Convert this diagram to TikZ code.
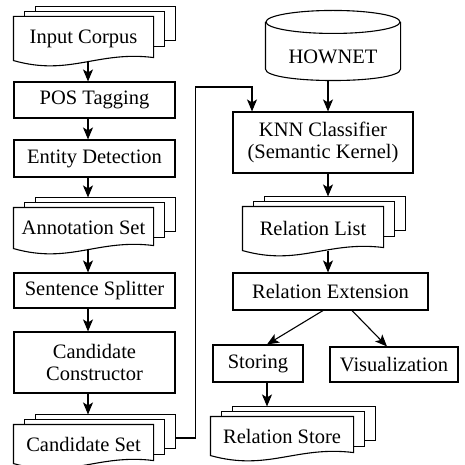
\documentclass[tikz,border=0pt]{standalone}
\usepackage{fontspec}
\setmainfont{Liberation Serif}
\usetikzlibrary{arrows.meta,calc,backgrounds}

% stack of three documents behind a doc node
\newcommand{\docstack}[1]{%
  \begin{scope}[on background layer]
  \draw[sheet] ($(#1.north west)+(22,-10)$) rectangle ($(#1.north east)+(22,24)$);
  \draw[sheet] ($(#1.north west)+(11,-5)$) rectangle ($(#1.north east)+(11,30)$);
  \draw[sheet] (#1.north west) -- (#1.north east) -- ($(#1.south east)+(0,-3)$)
    .. controls ($(#1.south east)!0.4!(#1.south west)+(0,-10)$) and ($(#1.south west)!0.4!(#1.south east)+(0,16)$) .. (#1.south west) -- cycle;
  \end{scope}
  \coordinate (#1top) at ($(#1.north)+(0,-10)$);
  \coordinate (#1back) at ($(#1.east)+(22,-6)$);
}

\begin{document}
\begin{tikzpicture}[x=1pt,y=-1pt,line width=1.1pt,
  every node/.style={font=\fontsize{20.5}{22}\selectfont},
  box/.style={draw,align=center,inner sep=0pt},
  doc/.style={align=center,inner sep=0pt},
  sheet/.style={draw,fill=white,line width=1.1pt},
  arr/.style={-{Stealth[length=12pt,width=10pt,inset=3pt]}}]
\useasboundingbox (0,0) rectangle (465,465);

% left column
\coordinate (lx) at (88,0);
\node[doc,minimum width=139pt,minimum height=43pt] (corpus) at (83.5,38.5) {Input Corpus};
\node[box,minimum width=161pt,minimum height=36pt] (pos) at (94.5,100) {POS Tagging};
\node[box,minimum width=161pt,minimum height=37pt] (ent) at (94.5,158.5) {Entity Detection};
\node[doc,minimum width=139pt,minimum height=40pt] (annot) at (83.5,228) {Annotation Set};
\node[box,minimum width=161pt,minimum height=35pt] (split) at (94.5,290.5) {Sentence Splitter};
\node[box,minimum width=161pt,minimum height=61pt] (cons) at (94.5,362.5) {Candidate\\Constructor};
\node[doc,minimum width=139pt,minimum height=38pt] (cand) at (83.5,444) {Candidate Set};
\docstack{corpus}
\docstack{annot}
\docstack{cand}

% right column
\coordinate (rx) at (328,0);
\node[minimum width=134pt,minimum height=46pt,inner sep=0pt] (hownet) at (333,57) {HOWNET};
\draw ($(hownet.north)+(0,-11.5)$) ellipse [x radius=67pt,y radius=11.5pt];
\draw ($(hownet.north west)+(0,-11.5)$) -- ($(hownet.south west)+(0,-11.5)$)
  .. controls +(0,15.3) and +(0,15.3) .. ($(hownet.south east)+(0,-11.5)$)
  -- ($(hownet.north east)+(0,-11.5)$);
\node[box,minimum width=180pt,minimum height=61pt] (knn) at (323,142.5) {KNN Classifier\\(Semantic Kernel)};
\node[doc,minimum width=140pt,minimum height=43pt] (rlist) at (313,228.5) {Relation List};
\node[box,minimum width=195pt,minimum height=37pt] (ext) at (330.5,291.5) {Relation Extension};
\node[box,minimum width=90pt,minimum height=37pt] (stor) at (258,363.5) {Storing};
\node[box,minimum width=128pt,minimum height=35pt] (vis) at (394,364.5) {Visualization};
\node[doc,minimum width=142pt,minimum height=38pt] (rstore) at (282,436) {Relation Store};
\docstack{rlist}
\docstack{rstore}
\coordinate (sx) at (267,0);
\coordinate (hook) at (252,87);

% connectors
\draw[arr] (corpus.south -| lx) -- (pos.north -| lx);
\draw[arr] (pos.south -| lx) -- (ent.north -| lx);
\draw[arr] (ent.south -| lx) -- (annottop -| lx);
\draw[arr] (annot.south -| lx) -- (split.north -| lx);
\draw[arr] (split.south -| lx) -- (cons.north -| lx);
\draw[arr] (cons.south -| lx) -- (candtop -| lx);
\draw[arr] (candback) -- ++(20,0) |- (hook) -- (hook |- knn.north);
\draw[arr] (hownet.south -| rx) -- (knn.north -| rx);
\draw[arr] (knn.south -| rx) -- (rlisttop -| rx);
\draw[arr] (rlist.south -| rx) -- (ext.north -| rx);
\draw[arr] ($(ext.south)+(-7.5,0)$) -- (stor.north -| sx);
\draw[arr] ($(ext.south)+(21.5,0)$) -- ($(vis.north)+(-7,0)$);
\draw[arr] (stor.south -| sx) -- (rstoretop -| sx);
\end{tikzpicture}
\end{document}
